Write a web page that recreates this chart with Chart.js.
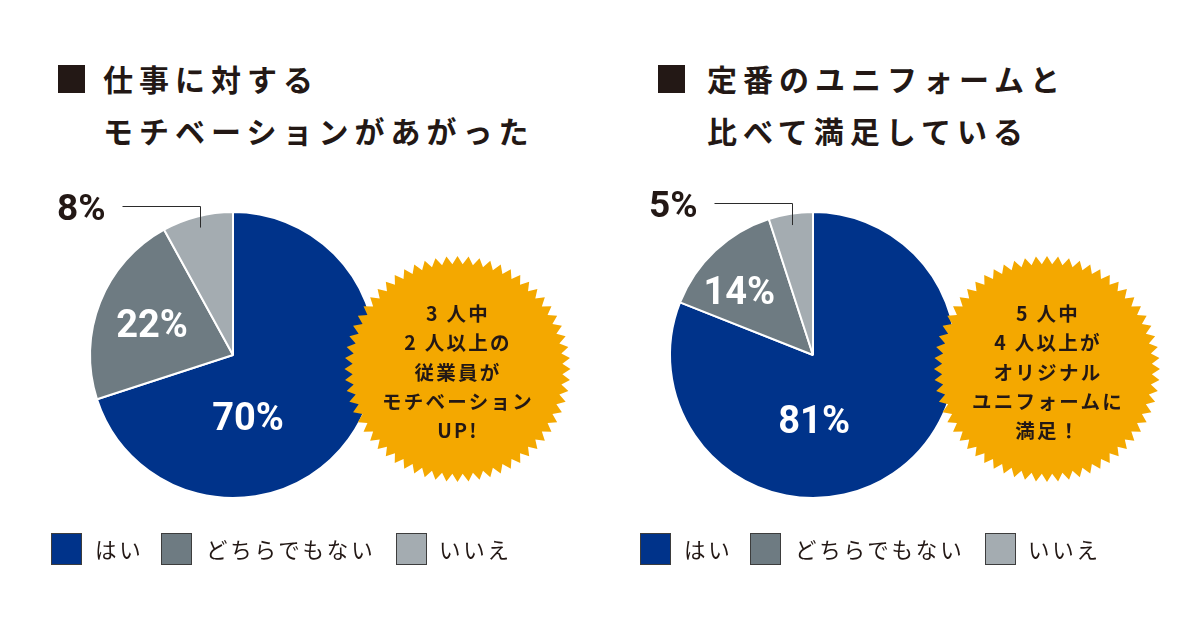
<!DOCTYPE html>
<html lang="ja">
<head>
<meta charset="utf-8">
<script src="https://cdn.jsdelivr.net/npm/chart.js@4.4.1/dist/chart.umd.min.js"></script>
<style>
  html, body { margin: 0; padding: 0; background: #fff; }
  #root { position: relative; width: 1200px; height: 630px; overflow: hidden; background: #fff;
          font-family: "Noto Sans CJK JP", "Noto Sans", sans-serif; color: #231815; }
  .title { position: absolute; font-weight: 700; font-size: 30px; line-height: 52px; letter-spacing: 6px; white-space: nowrap; }
  .sq { position: absolute; width: 27px; height: 28px; background: #231815; }
  canvas.pie { position: absolute; }
  svg.badge { position: absolute; left: 0; top: 0; }
  .badgeText { position: absolute; width: 240px; text-align: center; font-weight: 700; font-size: 19.5px;
               line-height: 29.3px; letter-spacing: 2.3px; white-space: nowrap; }
  .legend { position: absolute; top: 533px; height: 32px; }
  .legend .box { position: absolute; top: 0; width: 29px; height: 30px; border: 1px solid #3d3d3d; }
  .legend .lab { position: absolute; top: 0; line-height: 32px; font-size: 21.5px; font-weight: 400; letter-spacing: 2.8px; white-space: nowrap; color: #231815; }
</style>
</head>
<body>
<div id="root">
  <div class="sq" style="left:58px;top:65px"></div>
  <div class="title" style="left:103px;top:52px">仕事に対する<br>モチベーションがあがった</div>
  <div class="sq" style="left:658px;top:65px"></div>
  <div class="title" style="left:707px;top:52px">定番のユニフォームと<br>比べて満足している</div>

  <canvas class="pie" id="pie1" width="400" height="400" style="left:33px;top:155px"></canvas>
  <canvas class="pie" id="pie2" width="400" height="400" style="left:613px;top:155px"></canvas>

  <svg class="badge" width="1200" height="630" id="badges"></svg>
  <div class="badgeText" style="left:338px;top:298px">3 人中<br>2 人以上の<br>従業員が<br>モチベーション<br>UP!</div>
  <div class="badgeText" style="left:928px;top:298px">5 人中<br>4 人以上が<br>オリジナル<br>ユニフォームに<br>満足！</div>

  <div class="legend" id="legend1" style="left:51px"></div>
  <div class="legend" id="legend2" style="left:640px"></div>
</div>
<script>
// ---- data ----
const categories = ['はい', 'どちらでもない', 'いいえ'];
const motivationValues = [70, 22, 8];
const uniformValues = [81, 14, 5];
const percentLabels1 = ['70%', '22%', '8%'];
const percentLabels2 = ['81%', '14%', '5%'];

// ---- style ----
const sliceColors = ['#00338a', '#6e7b82', '#a4acb1'];
const legendOffsets = [[0, 44], [110, 155], [345, 388]]; // box x, label x (relative)

// label placement: inside labels by fraction of slice sweep and radius fraction; last slice outside with leader
const placement1 = [{t: 0.662, r: 0.46}, {t: 0.47, r: 0.60}, {outside: true}];
const placement2 = [{t: 0.614, r: 0.47}, {t: 0.36, r: 0.67}, {outside: true}];

const pieLabelPlugin = {
  id: 'pieLabels',
  afterDatasetsDraw(chart, args, opts) {
    const ctx = chart.ctx;
    const meta = chart.getDatasetMeta(0);
    meta.data.forEach((arc, i) => {
      const p = opts.placement[i];
      const {x, y, startAngle, endAngle, outerRadius} = arc.getProps(['x','y','startAngle','endAngle','outerRadius'], true);
      ctx.save();
      ctx.font = '700 38px Roboto, "DejaVu Sans", sans-serif';
      ctx.textBaseline = 'middle';
      if (!p.outside) {
        const a = startAngle + (endAngle - startAngle) * p.t;
        const r = outerRadius * p.r;
        ctx.fillStyle = '#ffffff';
        ctx.textAlign = 'center';
        ctx.fillText(opts.labels[i], x + Math.cos(a) * r, y + Math.sin(a) * r + 1);
      } else {
        const a = (startAngle + endAngle) / 2;
        const r = outerRadius * 0.92;
        const px = Math.round(x + Math.cos(a) * r) + 0.5;
        const py = y + Math.sin(a) * r;
        const ey = Math.round(py - 22) + 0.5;
        const ex = px - 78;
        ctx.strokeStyle = '#2b2b2b';
        ctx.lineWidth = 1;
        ctx.beginPath();
        ctx.moveTo(px, py);
        ctx.lineTo(px, ey);
        ctx.lineTo(ex, ey);
        ctx.stroke();
        ctx.fillStyle = '#231815';
        ctx.textAlign = 'right';
        ctx.font = '700 37px Roboto, "DejaVu Sans", sans-serif';
        ctx.fillText(opts.labels[i], ex - 17, ey + 4);
      }
      ctx.restore();
    });
  }
};

function makePie(id, values, labels, placement) {
  return new Chart(document.getElementById(id), {
    type: 'pie',
    data: {
      labels: categories,
      datasets: [{
        data: values,
        backgroundColor: sliceColors,
        borderColor: '#ffffff',
        borderWidth: 2,
        radius: 143
      }]
    },
    options: {
      responsive: false,
      animation: false,
      rotation: 0,
      layout: { padding: 0 },
      plugins: {
        legend: { display: false },
        tooltip: { enabled: false },
        pieLabels: { labels: labels, placement: placement }
      }
    },
    plugins: [pieLabelPlugin]
  });
}

makePie('pie1', motivationValues, percentLabels1, placement1);
makePie('pie2', uniformValues, percentLabels2, placement2);

// ---- starburst badges (decoration) ----
function starPoints(cx, cy, ro, ri, n) {
  const pts = [];
  for (let k = 0; k < n * 2; k++) {
    const a = -Math.PI / 2 + k * Math.PI / n;
    const r = k % 2 === 0 ? ro : ri;
    pts.push((cx + Math.cos(a) * r).toFixed(2) + ',' + (cy + Math.sin(a) * r).toFixed(2));
  }
  return pts.join(' ');
}
const svg = document.getElementById('badges');
[[457.5, 369], [1047, 369]].forEach(([cx, cy]) => {
  const poly = document.createElementNS('http://www.w3.org/2000/svg', 'polygon');
  poly.setAttribute('points', starPoints(cx, cy, 113, 105, 64));
  poly.setAttribute('fill', '#f4a800');
  svg.appendChild(poly);
});

// ---- HTML legends ----
function buildLegend(id) {
  const el = document.getElementById(id);
  categories.forEach((c, i) => {
    const b = document.createElement('div');
    b.className = 'box';
    b.style.left = legendOffsets[i][0] + 'px';
    b.style.background = sliceColors[i];
    el.appendChild(b);
    const l = document.createElement('div');
    l.className = 'lab';
    l.style.left = legendOffsets[i][1] + 'px';
    l.textContent = c;
    el.appendChild(l);
  });
}
buildLegend('legend1');
buildLegend('legend2');
</script>
</body>
</html>
